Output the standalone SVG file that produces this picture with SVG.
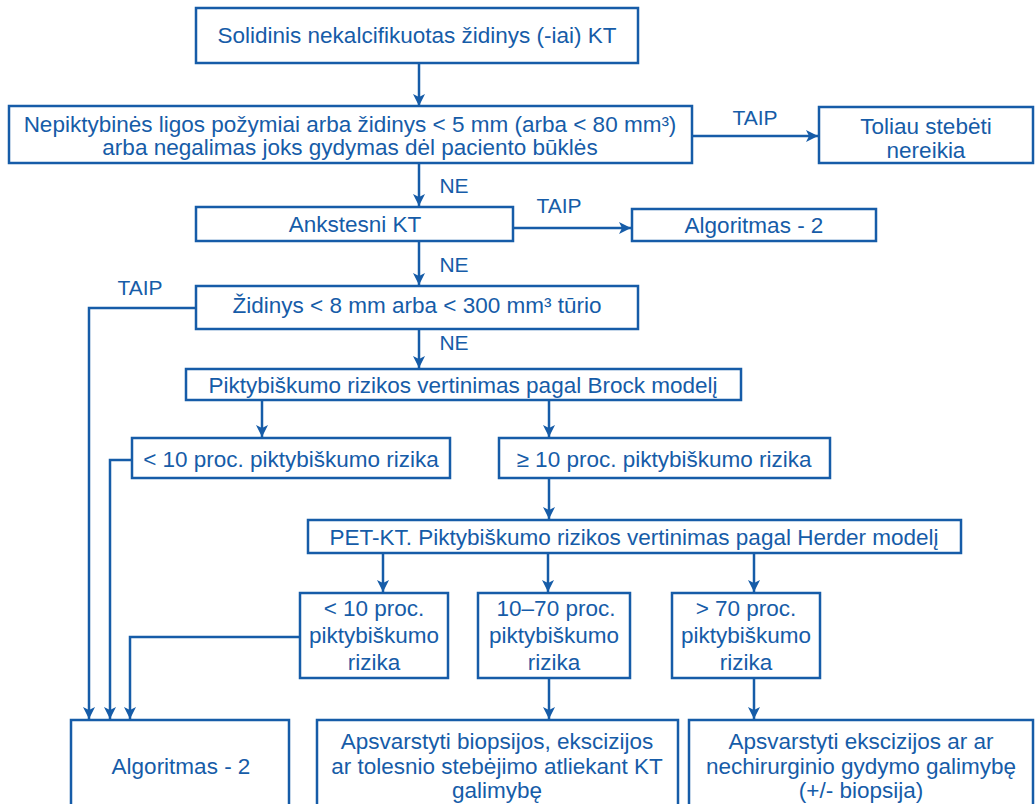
<svg xmlns="http://www.w3.org/2000/svg" width="1036" height="804" viewBox="0 0 1036 804">
<style>
.b{fill:#fff;stroke:#165ca8;stroke-width:2.5}
.t{font-family:"Liberation Sans",Arial,sans-serif;font-size:22.5px;fill:#165ca8;text-anchor:middle}
.l{font-family:"Liberation Sans",Arial,sans-serif;font-size:21px;fill:#165ca8;text-anchor:middle}
.c{fill:none;stroke:#165ca8;stroke-width:2.5}
</style>
<defs>
<marker id="a" markerUnits="userSpaceOnUse" markerWidth="12" markerHeight="12" refX="12" refY="6" orient="auto">
<path d="M0,0 L12,6 L0,12 L3,6 z" fill="#165ca8"/>
</marker>
</defs>
<rect width="1036" height="804" fill="#fff"/>
<g id="connectors">
<path class="c" d="M419,63 V106" marker-end="url(#a)"/>
<path class="c" d="M692,136 H818" marker-end="url(#a)"/>
<path class="c" d="M419,163 V206" marker-end="url(#a)"/>
<path class="c" d="M513,228 H631" marker-end="url(#a)"/>
<path class="c" d="M419,241 V285" marker-end="url(#a)"/>
<path class="c" d="M196,308 H89 V719" marker-end="url(#a)"/>
<path class="c" d="M419,329 V368" marker-end="url(#a)"/>
<path class="c" d="M262,400 V437" marker-end="url(#a)"/>
<path class="c" d="M549,400 V437" marker-end="url(#a)"/>
<path class="c" d="M132,460 H110 V719" marker-end="url(#a)"/>
<path class="c" d="M549,478 V519" marker-end="url(#a)"/>
<path class="c" d="M383,553 V592" marker-end="url(#a)"/>
<path class="c" d="M548,553 V592" marker-end="url(#a)"/>
<path class="c" d="M754,553 V592" marker-end="url(#a)"/>
<path class="c" d="M300,637 H130 V719" marker-end="url(#a)"/>
<path class="c" d="M549,678 V719" marker-end="url(#a)"/>
<path class="c" d="M754,678 V719" marker-end="url(#a)"/>
<text class="l" x="755" y="125">TAIP</text>
<text class="l" x="559" y="213">TAIP</text>
<text class="l" x="140" y="295">TAIP</text>
<text class="l" x="454" y="193">NE</text>
<text class="l" x="454" y="272">NE</text>
<text class="l" x="454" y="350">NE</text>
</g>
<g id="n1"><rect class="b" x="196" y="8" width="442" height="55"/><text class="t" x="417" y="43">Solidinis nekalcifikuotas židinys (-iai) KT</text></g>
<g id="n2"><rect class="b" x="9" y="106" width="683" height="57"/><text class="t" x="350" y="132">Nepiktybinės ligos požymiai arba židinys &lt; 5 mm (arba &lt; 80 mm³)</text><text class="t" x="350" y="155">arba negalimas joks gydymas dėl paciento būklės</text></g>
<g id="n3"><rect class="b" x="819" y="107" width="214" height="56"/><text class="t" x="926" y="134">Toliau stebėti</text><text class="t" x="926" y="158">nereikia</text></g>
<g id="n4"><rect class="b" x="196" y="207" width="317" height="34"/><text class="t" x="355" y="232">Ankstesni KT</text></g>
<g id="n5"><rect class="b" x="632" y="209" width="244" height="32"/><text class="t" x="754" y="233">Algoritmas - 2</text></g>
<g id="n6"><rect class="b" x="196" y="286" width="442" height="43"/><text class="t" x="417" y="313">Židinys &lt; 8 mm arba &lt; 300 mm³ tūrio</text></g>
<g id="n7"><rect class="b" x="186" y="369" width="555" height="31"/><text class="t" x="463" y="393">Piktybiškumo rizikos vertinimas pagal Brock modelį</text></g>
<g id="n8"><rect class="b" x="132" y="438" width="318" height="40"/><text class="t" x="291" y="467">&lt; 10 proc. piktybiškumo rizika</text></g>
<g id="n9"><rect class="b" x="499" y="438" width="331" height="40"/><text class="t" x="664" y="467">≥ 10 proc. piktybiškumo rizika</text></g>
<g id="n10"><rect class="b" x="308" y="520" width="653" height="33"/><text class="t" x="634" y="545">PET-KT. Piktybiškumo rizikos vertinimas pagal Herder modelį</text></g>
<g id="n11"><rect class="b" x="300" y="593" width="148" height="85"/><text class="t" x="374" y="616">&lt; 10 proc.</text><text class="t" x="374" y="643">piktybiškumo</text><text class="t" x="374" y="670">rizika</text></g>
<g id="n12"><rect class="b" x="478" y="593" width="152" height="85"/><text class="t" x="556" y="616">10–70 proc.</text><text class="t" x="554" y="643">piktybiškumo</text><text class="t" x="554" y="670">rizika</text></g>
<g id="n13"><rect class="b" x="672" y="593" width="148" height="85"/><text class="t" x="746" y="616">&gt; 70 proc.</text><text class="t" x="746" y="643">piktybiškumo</text><text class="t" x="746" y="670">rizika</text></g>
<g id="n14"><rect class="b" x="71" y="720" width="218" height="95"/><text class="t" x="181" y="774">Algoritmas - 2</text></g>
<g id="n15"><rect class="b" x="317" y="720" width="361" height="95"/><text class="t" x="497" y="749">Apsvarstyti biopsijos, ekscizijos</text><text class="t" x="497" y="774">ar tolesnio stebėjimo atliekant KT</text><text class="t" x="497" y="798">galimybę</text></g>
<g id="n16"><rect class="b" x="689" y="720" width="344" height="95"/><text class="t" x="861" y="749">Apsvarstyti ekscizijos ar ar</text><text class="t" x="861" y="774">nechirurginio gydymo galimybę</text><text class="t" x="861" y="798">(+/- biopsija)</text></g>
</svg>
